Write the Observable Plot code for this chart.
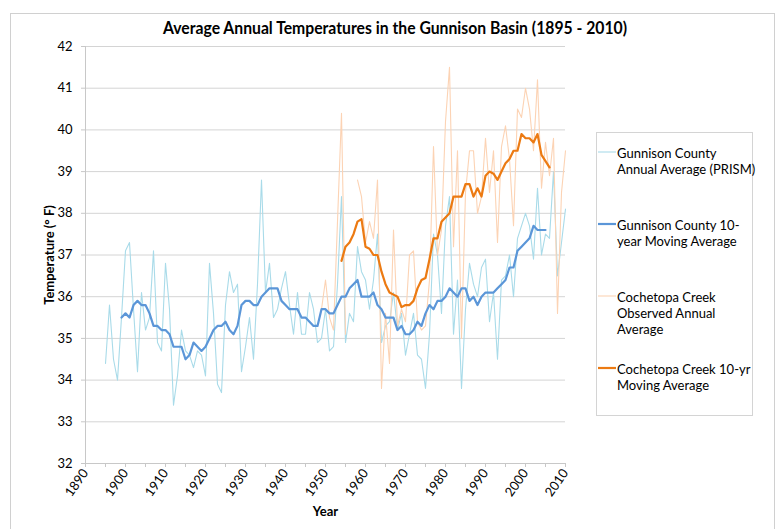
<!DOCTYPE html>
<html>
<head>
<meta charset="utf-8">
<script src="https://cdn.jsdelivr.net/npm/d3@7"></script>
<script src="https://cdn.jsdelivr.net/npm/@observablehq/plot@0.6"></script>
<style>
  html, body { margin: 0; padding: 0; background: #fff; }
  #chart { width: 779px; height: 529px; }
  svg [aria-label="y-axis label"] text, svg [aria-label="x-axis label"] text { font-weight: bold; }
</style>
</head>
<body>
<div id="chart"></div>
<script>
// ---- Data ----
const gunnisonAnnualStart = 1895;
const gunnisonAnnual = [
  34.4, 35.8, 34.5, 34.0, 35.5, 37.1, 37.3, 35.7, 34.2, 36.1,
  35.2, 35.5, 37.1, 34.9, 34.7, 36.8, 35.7, 33.4, 34.1, 35.2,
  34.7, 34.6, 34.3, 34.7, 34.6, 34.1, 36.8, 35.6, 33.9, 33.7,
  35.8, 36.6, 36.1, 36.3, 34.2, 34.8, 35.5, 34.5, 36.3, 38.8,
  36.1, 36.8, 35.5, 35.7, 36.2, 36.6, 35.8, 35.1, 36.1, 35.1,
  35.1, 36.1, 35.7, 34.9, 35.0, 35.7, 34.7, 34.8, 36.3, 38.4,
  34.9, 35.6, 35.4, 37.2, 36.6, 36.4, 35.7, 36.4, 37.5, 34.9,
  35.3, 35.4, 36.1, 35.2, 35.6, 34.6, 35.1, 35.6, 34.6, 34.5,
  33.8, 35.1, 37.5, 37.0, 35.6, 37.7, 38.4, 35.1, 36.4, 33.8,
  35.7, 36.8, 36.3, 36.0, 36.7, 36.9, 35.4, 36.1, 34.5, 36.4,
  36.5, 37.0, 36.0, 37.4, 37.7, 38.0, 37.7, 36.9, 38.6, 37.0,
  37.5, 37.4, 39.0, 36.5, 37.3, 38.1
];
const gunnisonMAStart = 1899;
const gunnisonMA = [
  35.5, 35.6, 35.5, 35.8, 35.9, 35.8, 35.8, 35.6, 35.3, 35.3,
  35.2, 35.2, 35.1, 34.8, 34.8, 34.8, 34.5, 34.6, 34.9, 34.8,
  34.7, 34.8, 35.0, 35.2, 35.3, 35.3, 35.4, 35.2, 35.1, 35.3,
  35.8, 35.9, 35.9, 35.8, 35.8, 36.0, 36.1, 36.2, 36.2, 36.2,
  35.9, 35.8, 35.7, 35.7, 35.7, 35.5, 35.5, 35.4, 35.3, 35.3,
  35.7, 35.7, 35.6, 35.6, 35.8, 36.0, 36.0, 36.2, 36.3, 36.4,
  36.0, 36.0, 36.0, 36.1, 35.8, 35.7, 35.5, 35.5, 35.5, 35.2,
  35.3, 35.1, 35.1, 35.2, 35.4, 35.3, 35.6, 35.8, 35.7, 35.9,
  35.9, 36.0, 36.2, 36.1, 36.0, 36.2, 36.2, 35.9, 36.0, 35.8,
  36.0, 36.1, 36.1, 36.1, 36.2, 36.3, 36.4, 36.7, 36.7, 37.1,
  37.2, 37.3, 37.4, 37.7, 37.6, 37.6, 37.6
];
const cochetopaAnnualStart = 1949;
const cochetopaAnnual = [
  35.7, 36.4, 35.5, 35.2, 37.8, 40.4, 35.1, null, null, 38.8,
  38.4, 37.3, 37.8, 37.4, 38.8, 33.8, 35.6, 34.4, 37.6, 35.3,
  35.7, 35.4, 37.0, 37.1, 35.4, 35.2, 35.3, 36.4, 39.6, 37.0,
  37.6, 40.2, 41.5, 37.2, 39.5, 35.0, 38.5, 39.5, 39.5, 38.0,
  38.4, 39.8, 38.5, 39.5, 37.3, 39.6, 40.1, 39.3, 37.7, 40.5,
  40.3, 41.0, 40.5, 39.5, 41.2, 38.6, 39.7, 38.9, 39.8, 35.6,
  38.5, 39.5
];
const cochetopaMAStart = 1954;
const cochetopaMA = [
  36.86, 37.2, 37.3, 37.5, 37.8, 37.86, 37.2, 37.15, 37.0, 37.0,
  36.6, 36.3, 36.1, 36.05, 36.0, 35.75, 35.8, 35.8, 35.9, 36.2,
  36.4, 36.45, 36.9, 37.4, 37.4, 37.8, 37.9, 38.0, 38.4, 38.4,
  38.4, 38.7, 38.7, 38.4, 38.6, 38.4, 38.9, 39.0, 38.95, 38.8,
  39.0, 39.2, 39.3, 39.5, 39.5, 39.9, 39.8, 39.8, 39.7, 39.9,
  39.4, 39.25, 39.1
];
const legendLines = [
  ["Gunnison County", "Annual Average (PRISM)"],
  ["Gunnison County 10-", "year Moving Average"],
  ["Cochetopa Creek", "Observed Annual", "Average"],
  ["Cochetopa Creek 10-yr", "Moving Average"]
];
const seriesColors = ["#a9dbe9", "#5b96d8", "#fcd3b4", "#ec7a12"];
const seriesWidths = [1.1, 2.2, 1.1, 2.2];
const yTicks = [32, 33, 34, 35, 36, 37, 38, 39, 40, 41, 42];
const xTicks = d3.range(1890, 2011, 5);
const titleText = "Average Annual Temperatures in the Gunnison Basin (1895 - 2010)";

// ---- build tables ----
const toRows = (start, vals) => vals.map((v, i) => ({year: start + i, value: v}));
const tables = [
  toRows(gunnisonAnnualStart, gunnisonAnnual),
  toRows(gunnisonMAStart, gunnisonMA),
  toRows(cochetopaAnnualStart, cochetopaAnnual),
  toRows(cochetopaMAStart, cochetopaMA)
];
const drawOrder = [0, 2, 1, 3];

const font = "Lato, 'Open Sans', sans-serif";
const chart = Plot.plot({
  width: 779,
  height: 529,
  marginLeft: 85,
  marginRight: 214,
  marginTop: 46,
  marginBottom: 66,
  style: {fontFamily: font, fontSize: "13px", color: "#000", background: "#fff", overflow: "visible"},
  x: {domain: [1890, 2010]},
  y: {domain: [32, 42]},
  marks: [
    Plot.gridY(yTicks, {stroke: "#d4d4d4", strokeOpacity: 1, strokeWidth: 1}),
    Plot.ruleX([1890], {stroke: "#c8c8c8"}),
    Plot.ruleY([32], {stroke: "#c8c8c8"}),
    Plot.axisY({ticks: yTicks, tickSize: 4, tickPadding: 9, stroke: "#c8c8c8",
      label: "Temperature (° F)", labelAnchor: "center", labelArrow: "none", labelOffset: 41}),
    Plot.axisX({ticks: xTicks, tickSize: 4, tickPadding: 3, stroke: "#c8c8c8", tickRotate: -55,
      tickFormat: d => d % 10 === 0 ? String(d) : "",
      label: "Year", labelAnchor: "center", labelArrow: "none", labelOffset: 52}),
    ...drawOrder.map(i => Plot.line(tables[i], {
      x: "year", y: "value", stroke: seriesColors[i], strokeWidth: seriesWidths[i],
      strokeLinejoin: "round", strokeLinecap: "round"
    }))
  ]
});
document.getElementById("chart").appendChild(chart);

// ---- frame, title and legend drawn on the same svg ----
const svg = d3.select(chart);
svg.insert("rect", ":first-child")
  .attr("x", 10.5).attr("y", 13.5).attr("width", 764).attr("height", 530)
  .attr("fill", "none").attr("stroke", "#d0d0d0");
svg.append("text")
  .attr("x", 395).attr("y", 34).attr("text-anchor", "middle")
  .attr("font-weight", "bold").attr("font-size", 16.5).attr("font-family", font)
  .attr("fill", "#000")
  .attr("textLength", 464).attr("lengthAdjust", "spacingAndGlyphs")
  .text(titleText);

const lg = svg.append("g").attr("font-family", font).attr("font-size", 13)
  .attr("fill", "#000").attr("text-anchor", "start");
lg.append("rect").attr("x", 596.5).attr("y", 132.5).attr("width", 156).attr("height", 283)
  .attr("fill", "#fff").attr("stroke", "#d4d4d4");
const entryBase = [158, 230, 302, 374];
legendLines.forEach((lines, i) => {
  lg.append("line").attr("x1", 598).attr("x2", 616)
    .attr("y1", entryBase[i] - 6).attr("y2", entryBase[i] - 6)
    .attr("stroke", seriesColors[i]).attr("stroke-width", seriesWidths[i]);
  lines.forEach((t, j) => {
    lg.append("text").attr("x", 617).attr("y", entryBase[i] + j * 16.2).text(t);
  });
});
</script>
</body>
</html>
